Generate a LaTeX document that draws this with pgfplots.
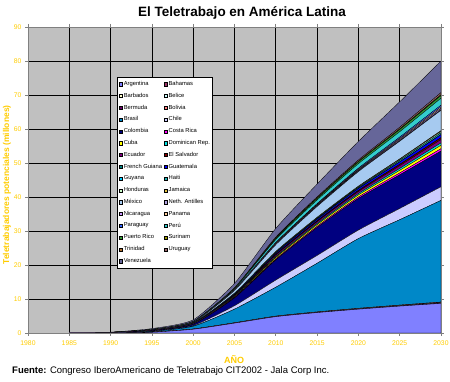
\documentclass[border=0pt]{standalone}
\usepackage{fontspec}
\setmainfont{Liberation Sans}
\usepackage{pgfplots}
\usepackage{pgfplotstable}
\pgfplotsset{compat=1.18}
\definecolor{cYel}{HTML}{FFCC00}
\definecolor{cBg}{HTML}{C0C0C0}
\definecolor{cAx}{HTML}{808080}
\definecolor{cArg}{HTML}{8080FF}
\definecolor{cBah}{HTML}{993366}
\definecolor{cBar}{HTML}{FFFFCC}
\definecolor{cBel}{HTML}{CCFFFF}
\definecolor{cBer}{HTML}{660066}
\definecolor{cBol}{HTML}{FF8080}
\definecolor{cBra}{HTML}{0088C8}
\definecolor{cChi}{HTML}{CCCCFF}
\definecolor{cCol}{HTML}{000080}
\definecolor{cCR}{HTML}{FF00FF}
\definecolor{cCub}{HTML}{FFFF00}
\definecolor{cDR}{HTML}{00E0E0}
\definecolor{cEcu}{HTML}{800080}
\definecolor{cES}{HTML}{800000}
\definecolor{cFG}{HTML}{008080}
\definecolor{cGua}{HTML}{0000FF}
\definecolor{cGuy}{HTML}{00CCFF}
\definecolor{cHai}{HTML}{20B0B0}
\definecolor{cHon}{HTML}{CCFFCC}
\definecolor{cJam}{HTML}{E0C040}
\definecolor{cMex}{HTML}{A6CAF0}
\definecolor{cNA}{HTML}{B0A0E0}
\definecolor{cNic}{HTML}{CC99FF}
\definecolor{cPan}{HTML}{FFCC99}
\definecolor{cPar}{HTML}{3366FF}
\definecolor{cPer}{HTML}{33CCCC}
\definecolor{cPR}{HTML}{339933}
\definecolor{cSur}{HTML}{999900}
\definecolor{cTri}{HTML}{B07030}
\definecolor{cUru}{HTML}{996666}
\definecolor{cVen}{HTML}{666699}

\pgfplotstableread{
year Arg Bah Bar Bel Ber Bol Bra Chi Col CR Cub DR Ecu ES FG Gua Guy Hai Hon Jam Mex NA Nic Pan Par Per PR Sur Tri Uru Ven
1985 0.01 0 0 0 0 0 0 0 0 0 0 0 0 0 0 0 0 0 0 0 0 0 0 0 0 0 0 0 0 0 0
1990 0.05 0 0 0 0 0.01 0.02 0.01 0.03 0.004 0.005 0.004 0.005 0.002 0 0.005 0 0.002 0.002 0.001 0.02 0.001 0.002 0.002 0.003 0.012 0.005 0 0.001 0.004 0.05
1995 0.25 0 0 0 0 0.02 0.18 0.05 0.2 0.018 0.025 0.018 0.025 0.012 0.001 0.022 0.001 0.012 0.01 0.005 0.08 0.004 0.008 0.008 0.01 0.039 0.015 0.001 0.004 0.012 0.27
2000 1.1 0.01 0.01 0.01 0.01 0.03 0.8 0.2 0.4 0.047 0.067 0.047 0.067 0.033 0.003 0.06 0.003 0.033 0.027 0.013 0.2 0.01 0.02 0.02 0.024 0.097 0.039 0.003 0.01 0.029 0.45
2005 2.9 0.02 0.02 0.01 0.01 0.05 4.0 1.0 2.3 0.16 0.23 0.16 0.23 0.12 0.01 0.21 0.01 0.12 0.09 0.05 0.8 0.03 0.06 0.06 0.08 0.31 0.12 0.01 0.03 0.09 1.3
2010 4.8 0.03 0.02 0.02 0.02 0.07 8.5 2.1 5.9 0.29 0.42 0.29 0.42 0.21 0.02 0.37 0.02 0.21 0.17 0.08 2.0 0.09 0.17 0.17 0.21 0.85 0.34 0.02 0.09 0.26 2.6
2015 6.0 0.04 0.03 0.02 0.02 0.09 14.3 2.3 8.2 0.35 0.5 0.35 0.5 0.25 0.025 0.45 0.025 0.25 0.2 0.1 3.2 0.11 0.22 0.22 0.27 1.09 0.43 0.03 0.11 0.32 3.8
2020 7.0 0.05 0.04 0.03 0.03 0.11 20.5 2.5 9.3 0.42 0.6 0.42 0.6 0.3 0.03 0.54 0.03 0.3 0.24 0.12 4.3 0.13 0.27 0.27 0.33 1.32 0.53 0.03 0.13 0.39 5.5
2025 7.9 0.06 0.05 0.03 0.03 0.14 25.1 3.3 9.9 0.55 0.78 0.55 0.78 0.39 0.04 0.7 0.04 0.39 0.31 0.16 5.2 0.16 0.32 0.32 0.4 1.59 0.64 0.04 0.16 0.47 7.5
2030 8.7 0.08 0.06 0.04 0.04 0.18 29.9 4.0 10.5 0.7 1.0 0.7 1.0 0.5 0.05 0.9 0.05 0.5 0.4 0.2 6.0 0.2 0.4 0.4 0.5 2.05 0.8 0.05 0.2 0.6 9.3
}\data

\begin{document}
\begin{tikzpicture}[x=1pt,y=1pt]
\useasboundingbox (0,0) rectangle (450,382);
\begin{axis}[
  at={(28pt,49pt)}, anchor=south west,
  scale only axis, width=413pt, height=306pt,
  xmin=1980, xmax=2030, ymin=0, ymax=90,
  xtick={1980,1985,...,2030}, ytick={0,10,...,90},
  grid=major, major grid style={black, line width=0.6pt},
  axis background/.style={fill=cBg},
  axis line style={cAx, line width=0.8pt},
  tick align=outside, major tick length=3pt,
  tick style={cAx, line width=0.6pt},
  ticklabel style={font=\fontsize{6.8}{7}\selectfont, text=cYel},
  /pgf/number format/assume math mode=true,
  x tick label style={/pgf/number format/1000 sep={}, yshift=-1.5pt},
  xlabel={AÑO},
  xlabel style={font=\bfseries\fontsize{9}{10}\selectfont, text=cYel, at={(axis description cs:0.499,-0.088)}, anchor=center},
  ylabel={Teletrabajadores potenciales (millones)},
  ylabel style={font=\bfseries\fontsize{8.5}{10}\selectfont, text=cYel, at={(axis description cs:-0.051,0.484)}, anchor=center},
  stack plots=y,
  every axis plot/.append style={mark=none, draw=black, line width=0.3pt, smooth, tension=0.35},
  legend image code/.code={\draw[#1,draw=black,line width=0.3pt,sharp plot] (0pt,-1.6pt) rectangle (3.2pt,1.6pt);},
  legend columns=2,
  legend cell align=left,
  legend style={at={(rel axis cs:0.2155,0.8366)}, anchor=north west, draw=black, fill=white, line width=0.5pt,
    font=\fontsize{5.8}{6.5}\selectfont, inner xsep=2pt, inner ysep=1pt, column sep=1pt,
    nodes={inner sep=0pt, minimum height=11.8pt},
    /tikz/every even column/.append style={column sep=2pt}},
]
\addplot[fill=cArg] table[x=year,y=Arg]{\data} \closedcycle; \addlegendentry{Argentina}
\addplot[fill=cBah] table[x=year,y=Bah]{\data} \closedcycle; \addlegendentry{Bahamas}
\addplot[fill=cBar] table[x=year,y=Bar]{\data} \closedcycle; \addlegendentry{Barbados}
\addplot[fill=cBel] table[x=year,y=Bel]{\data} \closedcycle; \addlegendentry{Belice}
\addplot[fill=cBer] table[x=year,y=Ber]{\data} \closedcycle; \addlegendentry{Bermuda}
\addplot[fill=cBol] table[x=year,y=Bol]{\data} \closedcycle; \addlegendentry{Bolivia}
\addplot[fill=cBra] table[x=year,y=Bra]{\data} \closedcycle; \addlegendentry{Brasil}
\addplot[fill=cChi] table[x=year,y=Chi]{\data} \closedcycle; \addlegendentry{Chile}
\addplot[fill=cCol] table[x=year,y=Col]{\data} \closedcycle; \addlegendentry{Colombia}
\addplot[fill=cCR] table[x=year,y=CR]{\data} \closedcycle; \addlegendentry{Costa Rica}
\addplot[fill=cCub] table[x=year,y=Cub]{\data} \closedcycle; \addlegendentry{Cuba}
\addplot[fill=cDR] table[x=year,y=DR]{\data} \closedcycle; \addlegendentry{Dominican Rep.}
\addplot[fill=cEcu] table[x=year,y=Ecu]{\data} \closedcycle; \addlegendentry{Ecuador}
\addplot[fill=cES] table[x=year,y=ES]{\data} \closedcycle; \addlegendentry{El Salvador}
\addplot[fill=cFG] table[x=year,y=FG]{\data} \closedcycle; \addlegendentry{French Guiana}
\addplot[fill=cGua] table[x=year,y=Gua]{\data} \closedcycle; \addlegendentry{Guatemala}
\addplot[fill=cGuy] table[x=year,y=Guy]{\data} \closedcycle; \addlegendentry{Guyana}
\addplot[fill=cHai] table[x=year,y=Hai]{\data} \closedcycle; \addlegendentry{Haiti}
\addplot[fill=cHon] table[x=year,y=Hon]{\data} \closedcycle; \addlegendentry{Honduras}
\addplot[fill=cJam] table[x=year,y=Jam]{\data} \closedcycle; \addlegendentry{Jamaica}
\addplot[fill=cMex] table[x=year,y=Mex]{\data} \closedcycle; \addlegendentry{México}
\addplot[fill=cNA] table[x=year,y=NA]{\data} \closedcycle; \addlegendentry{Neth. Antilles}
\addplot[fill=cNic] table[x=year,y=Nic]{\data} \closedcycle; \addlegendentry{Nicaragua}
\addplot[fill=cPan] table[x=year,y=Pan]{\data} \closedcycle; \addlegendentry{Panama}
\addplot[fill=cPar] table[x=year,y=Par]{\data} \closedcycle; \addlegendentry{Paraguay}
\addplot[fill=cPer] table[x=year,y=Per]{\data} \closedcycle; \addlegendentry{Perú}
\addplot[fill=cPR] table[x=year,y=PR]{\data} \closedcycle; \addlegendentry{Puerto Rico}
\addplot[fill=cSur] table[x=year,y=Sur]{\data} \closedcycle; \addlegendentry{Surinam}
\addplot[fill=cTri] table[x=year,y=Tri]{\data} \closedcycle; \addlegendentry{Trinidad}
\addplot[fill=cUru] table[x=year,y=Uru]{\data} \closedcycle; \addlegendentry{Uruguay}
\addplot[fill=cVen] table[x=year,y=Ven]{\data} \closedcycle; \addlegendentry{Venezuela}
\end{axis}
\node[font=\bfseries\fontsize{13.5}{15}\selectfont] at (242,369) {El Teletrabajo en América Latina};
\node[anchor=west, font=\fontsize{9.5}{10}\selectfont, inner sep=0pt] at (12,10.5) {\textbf{Fuente:} Congreso IberoAmericano de Teletrabajo CIT2002 - Jala Corp Inc.};
\end{tikzpicture}
\end{document}
